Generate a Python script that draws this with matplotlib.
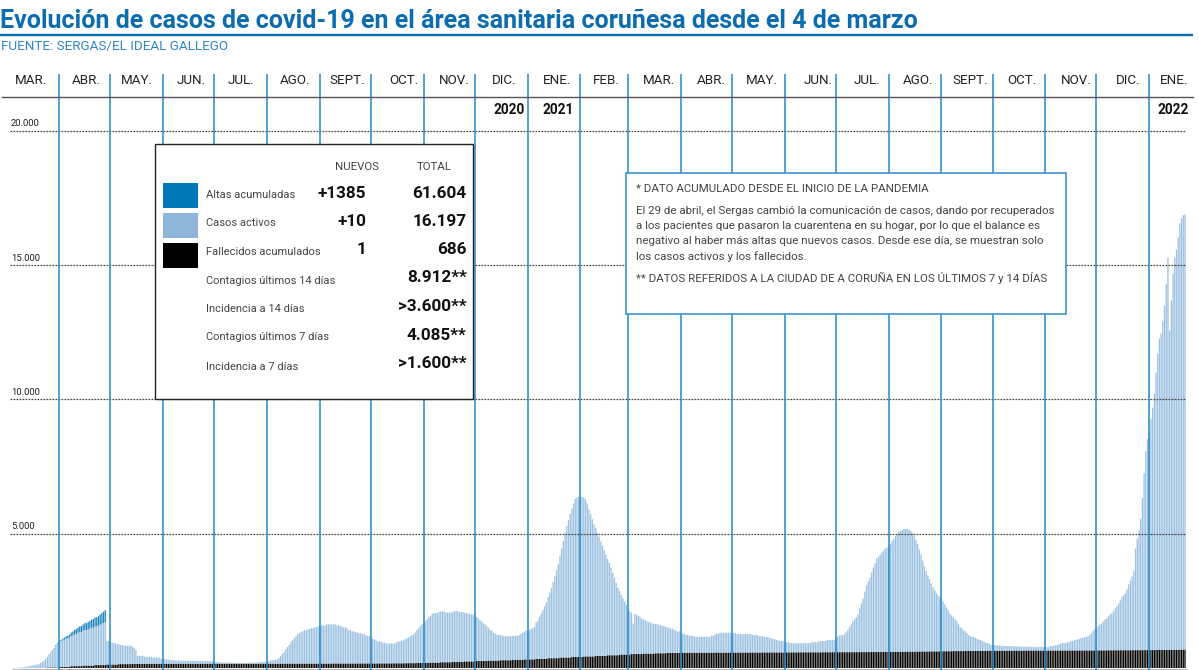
import numpy as np
import pandas as pd
import matplotlib
matplotlib.use('Agg')
import matplotlib.pyplot as plt
from matplotlib.patches import Rectangle

plt.rcParams['font.family'] = 'Roboto'

# casos activos por dia, desde el 4 de marzo de 2020
activos_2020 = [
    7, 8, 11, 11, 15, 18, 22, 30, 37, 45, 55, 75, 90, 105, 112, 125, 150, 185, 220, 260, 330, 400, 480, 550, 630, 700, 810, 880,  # mar
    930, 960, 990, 1020, 1050, 1060, 1090, 1120, 1140, 1180, 1200, 1240, 1270, 1270, 1300, 1330, 1320, 1350, 1380, 1410, 1410, 1440, 1440, 1470, 1500, 1540, 1570, 1600, 870, 870,  # abr
    820, 820, 790, 790, 750, 750, 710, 710, 680, 680, 680, 680, 680, 640, 600, 525, 305, 305, 305, 305, 265, 265, 265, 265, 265, 230, 230, 230, 230, 230, 190,  # may
    180, 170, 160, 150, 150, 140, 130, 130, 120, 120, 120, 110, 110, 110, 110, 110, 110, 110, 110, 110, 110, 110, 105, 105, 105, 100, 100, 95, 95, 90,  # jun
    80, 70, 60, 50, 45, 40, 40, 35, 35, 35, 35, 35, 30, 30, 30, 30, 30, 30, 30, 30, 35, 35, 35, 35, 40, 45, 50, 55, 60, 65, 70,  # jul
    60, 95, 115, 130, 130, 150, 160, 210, 280, 355, 430, 540, 615, 690, 800, 875, 950, 1020, 1095, 1130, 1170, 1205, 1240, 1240, 1280, 1280, 1320, 1320, 1355, 1355, 1390,  # ago
    1385, 1420, 1420, 1420, 1460, 1460, 1460, 1460, 1460, 1460, 1420, 1420, 1385, 1385, 1345, 1345, 1310, 1235, 1235, 1200, 1200, 1160, 1160, 1125, 1125, 1090, 1090, 1050, 1015, 1015,  # sep
    960, 925, 890, 850, 815, 815, 815, 775, 775, 740, 740, 740, 740, 740, 740, 775, 815, 815, 850, 850, 890, 925, 960, 1000, 1035, 1075, 1150, 1220, 1295, 1370, 1445,  # oct
    1480, 1555, 1630, 1700, 1740, 1815, 1850, 1850, 1850, 1890, 1890, 1890, 1890, 1850, 1850, 1850, 1850, 1850, 1890, 1890, 1890, 1850, 1850, 1850, 1815, 1815, 1775, 1775, 1740, 1740,  # nov
    1665, 1630, 1590, 1515, 1480, 1405, 1370, 1295, 1220, 1145, 1110, 1035, 1000, 960, 960, 925, 925, 890, 890, 890, 890, 890, 890, 890, 890, 890, 925, 960, 1000, 1035, 1075,  # dic
]
activos_2021 = [
    1060, 1095, 1130, 1165, 1200, 1350, 1425, 1570, 1680, 1825, 1960, 2110, 2290, 2440, 2620, 2840, 3060, 3280, 3500, 3790, 4050, 4340, 4640, 4900, 5120, 5340, 5520, 5710, 5890, 5930, 5960,  # ene
    5960, 5960, 5920, 5845, 5700, 5475, 5290, 5105, 4920, 4770, 4590, 4440, 4255, 4105, 3920, 3775, 3590, 3440, 3255, 3070, 2885, 2700, 2515, 2370, 2220, 2110, 1960, 1850,  # feb
    1685, 1610, 1535, 1130, 1500, 1460, 1425, 1390, 1315, 1275, 1240, 1200, 1165, 1165, 1130, 1090, 1090, 1090, 1055, 1055, 1020, 1020, 980, 945, 945, 905, 905, 870, 830, 795, 795,  # mar
    740, 705, 705, 665, 665, 630, 630, 630, 590, 590, 590, 590, 590, 590, 590, 590, 590, 590, 630, 630, 665, 705, 705, 740, 740, 740, 740, 740, 740, 740,  # abr
    720, 720, 720, 685, 685, 685, 685, 685, 685, 685, 685, 685, 645, 645, 645, 645, 610, 610, 610, 575, 575, 575, 535, 535, 500, 500, 460, 460, 425, 425, 425,  # may
    375, 375, 375, 340, 340, 340, 340, 340, 340, 340, 340, 340, 340, 340, 340, 340, 375, 375, 375, 375, 415, 415, 415, 415, 415, 450, 450, 450, 450, 450,  # jun
    520, 590, 630, 630, 630, 665, 740, 815, 925, 1035, 1145, 1220, 1295, 1405, 1630, 1810, 2000, 2255, 2480, 2630, 2775, 2960, 3145, 3290, 3480, 3550, 3625, 3700, 3775, 3850, 3885,  # jul
    3905, 4015, 4125, 4200, 4310, 4385, 4460, 4495, 4530, 4570, 4570, 4570, 4530, 4495, 4420, 4310, 4160, 4015, 3790, 3610, 3385, 3165, 2980, 2830, 2680, 2535, 2385, 2275, 2165, 2090, 2015,  # ago
    1960, 1850, 1740, 1630, 1515, 1405, 1330, 1260, 1185, 1110, 1000, 890, 850, 775, 740, 665, 590, 555, 520, 520, 480, 445, 405, 405, 370, 335, 295, 295, 260, 220,  # sep
    210, 205, 200, 195, 190, 185, 180, 175, 170, 170, 165, 165, 160, 160, 155, 155, 150, 150, 145, 145, 140, 140, 135, 135, 135, 135, 135, 135, 135, 135, 135,  # oct
    125, 125, 125, 165, 165, 165, 200, 200, 235, 235, 275, 275, 275, 310, 310, 350, 350, 385, 385, 420, 420, 460, 460, 495, 495, 535, 570, 645, 720, 790,  # nov
    820, 895, 970, 1005, 1080, 1155, 1190, 1265, 1340, 1375, 1450, 1560, 1635, 1745, 1855, 1970, 2040, 2115, 2265, 2450, 2595, 2745, 2965, 3780, 4150, 4445, 4890, 5665, 6590, 7405, 7850,  # dic
]
activos_2022 = [8170, 8615, 9025, 9545, 10325, 11035, 11590, 11775, 12260, 12820, 13640, 14605, 11890, 13005, 14010, 14605, 14900, 15345, 15870, 16055, 16170, 16197]

# altas acumuladas: solo hasta el 28 de abril de 2020
altas_inicio = [0] * 22 + [5, 10, 15, 20, 25, 30] + [
    40, 50, 60, 70, 90, 100, 110, 130, 150, 170, 180, 190, 210, 220, 230, 250, 260, 280, 290, 300, 320, 330, 340, 350, 380, 400, 420, 445]

# fallecidos acumulados, lectura semanal
fallecidos_semana = [
    0, 0, 5, 20, 40, 70, 90, 110, 130, 145, 150, 155,
    158, 158, 160, 160, 160, 160, 160, 160, 160,
    162, 162, 165, 165, 165, 165, 168, 168, 170, 170,
    172, 175, 180, 190, 200, 215, 230, 245,
    260, 275, 290, 305, 320, 340, 365, 390, 410,
    430, 450, 475, 500, 520, 535, 550, 560,
    570, 570, 572, 574, 575, 575, 578, 580, 580, 582, 585, 585, 588,
    590, 590, 592, 595, 600, 605, 610, 615, 620, 625, 630, 635, 640,
    645, 647, 648, 650, 650, 652, 652, 654, 655, 657, 660, 662, 665, 667, 670, 675,
    686]

meses = ['MAR.', 'ABR.', 'MAY.', 'JUN.', 'JUL.', 'AGO.', 'SEPT.', 'OCT.', 'NOV.', 'DIC.', 'ENE.', 'FEB.',
         'MAR.', 'ABR.', 'MAY.', 'JUN.', 'JUL.', 'AGO.', 'SEPT.', 'OCT.', 'NOV.', 'DIC.', 'ENE.']
meses_x = [31, 86, 137, 191, 241, 295, 347, 404, 454, 504, 557, 606,
           659, 711, 762, 818, 867, 918, 970, 1022, 1076, 1128, 1174]
anios = [('2020', 509), ('2021', 558), ('2022', 1173)]
niveles = [5000, 10000, 15000, 20000]
niveles_txt = ['5.000', '10.000', '15.000', '20.000']

filas = ['Altas acumuladas', 'Casos activos', 'Fallecidos acumulados', 'Contagios últimos 14 días',
         'Incidencia a 14 días', 'Contagios últimos 7 días', 'Incidencia a 7 días']
nuevos = ['+1385', '+10', '1']
totales = ['61.604', '16.197', '686', '8.912**', '>3.600**', '4.085**', '>1.600**']

activos = np.array(activos_2020 + activos_2021 + activos_2022, dtype=float)
n = len(activos)
fallecidos = np.repeat(fallecidos_semana, 7)[:n].astype(float)
altas = np.zeros(n)
altas[:len(altas_inicio)] = altas_inicio

AZUL = '#2389c9'
AZUL_TITULO = '#0b6cb0'
CLARO = '#9cc1e1'
GRIS = '#444444'

fechas = pd.date_range('2020-03-04', periods=n, freq='D')
origen = pd.Timestamp('2020-04-01')
dias = np.array((fechas - origen).days)

fig = plt.figure(figsize=(11.99, 6.70), dpi=100)

# grafico: 1 dia = 1.703 px, 5000 casos = 134.3 px
ax = fig.add_axes([0, 0, 1, 1])
ax.set_xlim(-59.3 / 1.703, (1199 - 59.3) / 1.703)
ax.set_ylim(-2 * 37.23, 668 * 37.23)
ax.axis('off')

# snap=False para que las barras finas no se peguen al pixel
ancho = 0.76
ax.bar(dias, fallecidos, width=ancho, color='#000000', linewidth=0, zorder=2, snap=False)
ax.bar(dias, activos, bottom=fallecidos, width=ancho, color=CLARO, linewidth=0, zorder=2, snap=False)
ax.bar(dias, altas, bottom=fallecidos + activos, width=ancho, color='#1f86bd', linewidth=0, zorder=2, snap=False)

ax.hlines(niveles, -29, 661.6, color='#444444', lw=0.9, linestyles=(0, (1.4, 1.0)), zorder=3)
ax.hlines(-20, -28, 662, color='#b5b5b5', lw=0.8, zorder=1)

inicios = pd.date_range('2020-04-01', '2022-01-01', freq='MS')
ax.vlines(np.array((inicios - origen).days), -60, 594 * 37.23, color=AZUL, lw=1.1, zorder=4)

# capa en pixeles para textos y cuadros
px = fig.add_axes([0, 0, 1, 1], zorder=5)
px.set_xlim(0, 1199)
px.set_ylim(670, 0)
px.axis('off')
px.patch.set_alpha(0)

px.text(0, 21, 'Evolución de casos de covid-19 en el área sanitaria coruñesa desde el 4 de marzo',
        fontsize=18, fontweight='bold', color=AZUL_TITULO, va='center', ha='left')
px.plot([0, 1193], [35, 35], color=AZUL_TITULO, lw=1.7, solid_capstyle='butt')
px.text(1, 46.5, 'FUENTE: SERGAS/EL IDEAL GALLEGO', fontsize=9.7, color='#2f86c5',
        va='center', ha='left')
px.plot([2, 1193], [96.5, 96.5], color='#555555', lw=1.0)

for m, x in zip(meses, meses_x):
    px.text(x, 80.5, m, fontsize=9.6, color='#222222', va='center', ha='center')
for a, x in anios:
    px.text(x, 110.5, a, fontsize=9.8, color='#111111', fontweight='bold', va='center', ha='center')
for v, t in zip(niveles, niveles_txt):
    y = 668 - v / 37.23
    px.text(11, y - 7, t, fontsize=6.8, color='#222222', va='center', ha='left')

# cuadro de datos
px.add_patch(Rectangle((155, 143.5), 318, 255.5, facecolor='white', edgecolor='#222222', lw=1.0, zorder=6))
px.text(356.5, 166.5, 'NUEVOS', fontsize=8.2, color=GRIS, va='center', ha='center', zorder=7)
px.text(434, 166.5, 'TOTAL', fontsize=8.2, color=GRIS, va='center', ha='center', zorder=7)
for y0, c in zip([182.7, 213, 243], ['#0078b8', '#8fb6d9', '#000000']):
    px.add_patch(Rectangle((163.3, y0), 34.5, 25, facecolor=c, edgecolor='none', zorder=7))
filas_y = [195, 223.5, 252, 280.5, 309, 337.5, 366.5]
valores_y = [193, 221.5, 250, 278, 306.5, 335, 363.5]
for t, y in zip(filas, filas_y):
    px.text(206.5, y, t, fontsize=8.0, color=GRIS, va='center', ha='left', zorder=7)
for t, y in zip(nuevos, valores_y):
    px.text(366, y, t, fontsize=12.3, color='#111111', fontweight='bold', va='center', ha='right', zorder=7)
for t, y in zip(totales, valores_y):
    px.text(466.5, y, t, fontsize=12.3, color='#111111', fontweight='bold', va='center', ha='right', zorder=7)

# cuadro de notas
px.add_patch(Rectangle((625.5, 173), 440.5, 141, facecolor='white', edgecolor='#3f93cb', lw=1.2, zorder=6))
notas = [('* DATO ACUMULADO DESDE EL INICIO DE LA PANDEMIA', 188.5),
         ('El 29 de abril, el Sergas cambió la comunicación de casos, dando por recuperados', 210.5),
         ('a los pacientes que pasaron la cuarentena en su hogar, por lo que el balance es', 226),
         ('negativo al haber más altas que nuevos casos. Desde ese día, se muestran solo', 241.5),
         ('los casos activos y los fallecidos.', 257),
         ('** DATOS REFERIDOS A LA CIUDAD DE A CORUÑA EN LOS ÚLTIMOS 7 y 14 DÍAS', 278.5)]
for t, y in notas:
    px.text(635.5, y, t, fontsize=8.25, color=GRIS, va='center', ha='left', zorder=7)

fig.savefig('out.png', dpi=100)
